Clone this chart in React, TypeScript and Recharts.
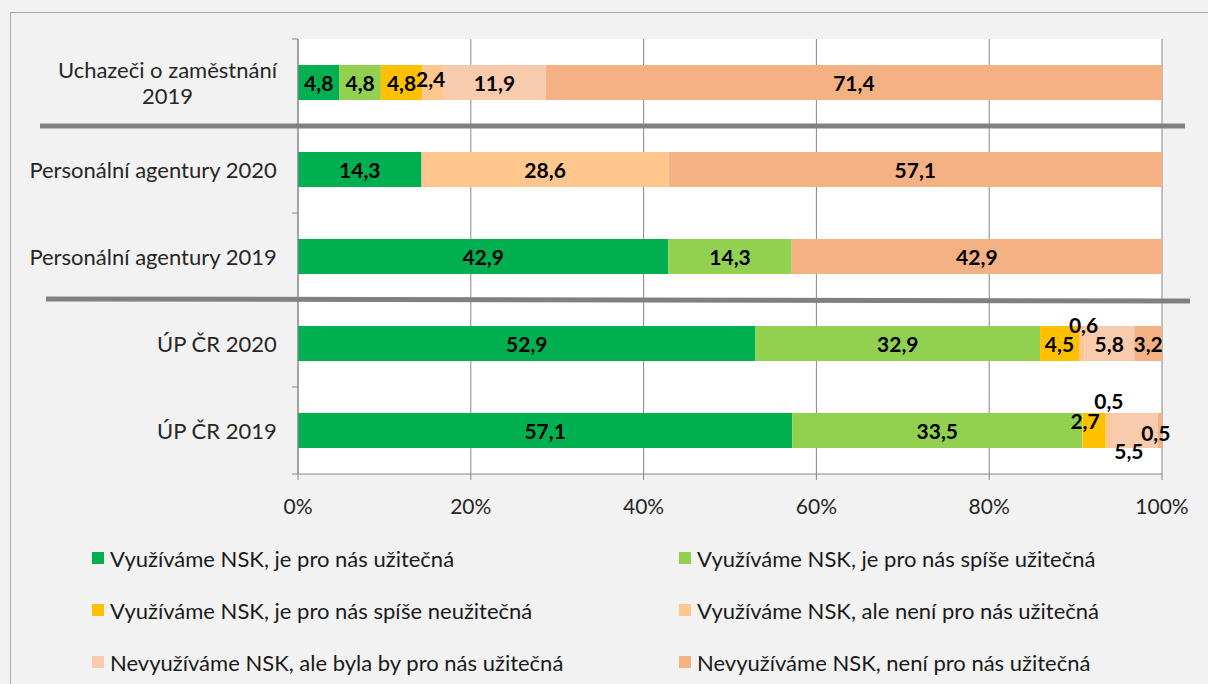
import { BarChart, Bar, XAxis, YAxis, CartesianGrid, LabelList } from "recharts";

const categories = [
  "Uchazeči o zaměstnání\n2019",
  "Personální agentury 2020",
  "Personální agentury 2019",
  "ÚP ČR 2020",
  "ÚP ČR 2019",
];

const seriesNames = [
  "Využíváme NSK, je pro nás užitečná",
  "Využíváme NSK, je pro nás spíše užitečná",
  "Využíváme NSK, je pro nás spíše neužitečná",
  "Využíváme NSK, ale není pro nás užitečná",
  "Nevyužíváme NSK, ale byla by pro nás užitečná",
  "Nevyužíváme NSK, není pro nás užitečná",
];

const useful = [4.8, 14.3, 42.9, 52.9, 57.1];
const ratherUseful = [4.8, 0, 14.3, 32.9, 33.5];
const ratherUseless = [4.8, 0, 0, 4.5, 2.7];
const usedNotUseful = [2.4, 28.6, 0, 0.6, 0.5];
const unusedWouldHelp = [11.9, 0, 0, 5.8, 5.5];
const unusedNotUseful = [71.4, 57.1, 42.9, 3.2, 0.5];

const xTicks = [0, 0.2, 0.4, 0.6, 0.8, 1];

const series = [useful, ratherUseful, ratherUseless, usedNotUseful, unusedWouldHelp, unusedNotUseful];
const colors = ["#00b050", "#92d050", "#ffc000", "#ffc68e", "#f8cbad", "#f4b183"];

// nudges for labels of thin segments (dx, dy), keyed series-category
const labelNudge: Record<string, [number, number]> = {
  "3-0": [-2, -4],
  "3-3": [2, -19],
  "2-4": [-9, -10],
  "3-4": [1, -30],
  "4-4": [-5, 20],
  "5-4": [-4, 2],
};

const FONT = "Lato, 'Noto Sans', sans-serif";
const W = 1208;
const H = 684;
const PLOT_TOP = 39;
const PLOT_LEFT = 298;
const PLOT_RIGHT = 1162;
const PLOT_BOTTOM = 474;
const BAND = (PLOT_BOTTOM - PLOT_TOP) / categories.length;
const TXT = 22;

const data = categories.map((name, i) => {
  const row: Record<string, string | number> = { name };
  series.forEach((s, k) => {
    row["s" + k] = s[i];
  });
  return row;
});

const fmt = (v: number) => v.toFixed(1).replace(".", ",");

let measureCtx: CanvasRenderingContext2D | null = null;
const textWidth = (t: string, font: string) => {
  if (!measureCtx) measureCtx = document.createElement("canvas").getContext("2d");
  if (!measureCtx) return t.length * 10;
  measureCtx.font = font;
  return measureCtx.measureText(t).width;
};

const CategoryTick = (props: any) => {
  const { x, y, payload, index } = props;
  const lines = String(payload.value).split("\n");
  const right = x - 21;
  const widths = lines.map((l) => textWidth(l, `${TXT}px ${FONT}`));
  const maxW = Math.max(...widths);
  const cx = right - maxW / 2;
  const lh = 26;
  const y0 = y - ((lines.length - 1) * lh) / 2;
  return (
    <g>
      <line x1={x - 6} x2={x} y1={y - BAND / 2} y2={y - BAND / 2} stroke="#868686" />
      {index === categories.length - 1 && (
        <line x1={x - 6} x2={x} y1={y + BAND / 2} y2={y + BAND / 2} stroke="#868686" />
      )}
      {lines.map((l, i) => (
        <text
          key={i}
          x={cx}
          y={y0 + i * lh}
          textAnchor="middle"
          dominantBaseline="central"
          fontSize={TXT}
          fontFamily={FONT}
          fill="#262626"
        >
          {l}
        </text>
      ))}
    </g>
  );
};

const makeLabel = (k: number) => (props: any) => {
  const { x, y, width, height } = props;
  const cat = Math.floor((y + height / 2 - PLOT_TOP) / BAND);
  const v = series[k][cat];
  if (!v) return null;
  const [dx, dy] = labelNudge[`${k}-${cat}`] || [0, 0];
  return (
    <text
      x={x + width / 2 + dx}
      y={y + height / 2 + dy}
      textAnchor="middle"
      dominantBaseline="central"
      fontSize={21}
      fontWeight="bold"
      fontFamily={FONT}
      fill="#000"
    >
      {fmt(v)}
    </text>
  );
};

const App = () => {
  return (
    <div
      style={{
        position: "absolute",
        left: 0,
        top: 0,
        width: W,
        height: H,
        background: "#f2f2f2",
        overflow: "hidden",
        fontFamily: FONT,
      }}
    >
      <div
        style={{
          position: "absolute",
          left: 10,
          top: 12,
          width: W,
          height: H,
          borderLeft: "1.5px solid #a6a6a6",
          borderTop: "1.5px solid #a6a6a6",
        }}
      />
      <div style={{ position: "absolute", left: 0, top: 0 }}>
        <BarChart
          width={W}
          height={H}
          data={data}
          layout="vertical"
          stackOffset="expand"
          barSize={35}
          margin={{ top: PLOT_TOP, right: W - PLOT_RIGHT, left: 0, bottom: H - PLOT_BOTTOM - 40 }}
        >
          <CartesianGrid horizontal={false} stroke="#868686" fill="#fff" />
          <XAxis
            type="number"
            domain={[0, 1]}
            ticks={xTicks}
            height={40}
            tickFormatter={(v: number) => `${Math.round(v * 100)}%`}
            axisLine={{ stroke: "#868686" }}
            tickLine={{ stroke: "#868686" }}
            tickSize={6}
            tick={{ fontSize: 21, fontFamily: FONT, fill: "#262626", dy: 17 }}
          />
          <YAxis
            type="category"
            dataKey="name"
            width={PLOT_LEFT}
            axisLine={{ stroke: "#868686" }}
            tickLine={false}
            tickSize={0}
            tickMargin={0}
            interval={0}
            tick={<CategoryTick />}
          />
          {series.map((_, k) => (
            <Bar key={k} dataKey={"s" + k} stackId="a" fill={colors[k]} isAnimationActive={false}>
              <LabelList dataKey={"s" + k} content={makeLabel(k)} />
            </Bar>
          ))}
        </BarChart>
      </div>
      <svg width={W} height={H} style={{ position: "absolute", left: 0, top: 0, pointerEvents: "none" }}>
        <line x1={40} x2={1185} y1={PLOT_TOP + BAND} y2={PLOT_TOP + BAND} stroke="#808080" strokeWidth={5} />
        <line x1={46} x2={1190} y1={PLOT_TOP + BAND * 3 - 1} y2={PLOT_TOP + BAND * 3 + 1} stroke="#808080" strokeWidth={5} />
      </svg>
      <div
        style={{
          position: "absolute",
          left: 92,
          top: 532,
          display: "grid",
          gridTemplateColumns: "587px 520px",
        }}
      >
        {seriesNames.map((n, k) => (
          <div key={k} style={{ display: "flex", alignItems: "center", height: 52, fontSize: TXT, color: "#1a1a1a" }}>
            <span style={{ width: 12, height: 12, background: colors[k], marginRight: 6, flexShrink: 0 }} />
            {n}
          </div>
        ))}
      </div>
    </div>
  );
};

export default App;
